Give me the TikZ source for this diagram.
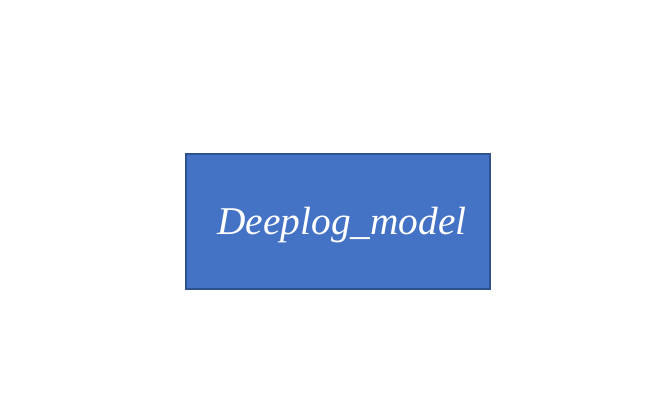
\documentclass[tikz,border=0pt]{standalone}
\usepackage{fontspec}
\setmainfont{Liberation Serif}
\usepackage{tikz}
\usetikzlibrary{positioning}
\definecolor{modelblue}{RGB}{68,114,196}
\definecolor{modeledge}{RGB}{47,82,143}

\begin{document}
\begin{tikzpicture}[
    modelbox/.style={draw=modeledge, line width=1.2pt, fill=modelblue,
                     minimum width=7.6cm, minimum height=3.375cm,
                     text=white, font=\fontsize{28}{34}\selectfont\itshape},
  ]
    \useasboundingbox (0,0) rectangle (16.625,10.275);
    \node[modelbox] (model) at (8.45,4.7375) {\hspace*{0.2cm}\raisebox{-0.1cm}[\height][\depth]{Deeplog\_model}};
  \end{tikzpicture}
\end{document}
